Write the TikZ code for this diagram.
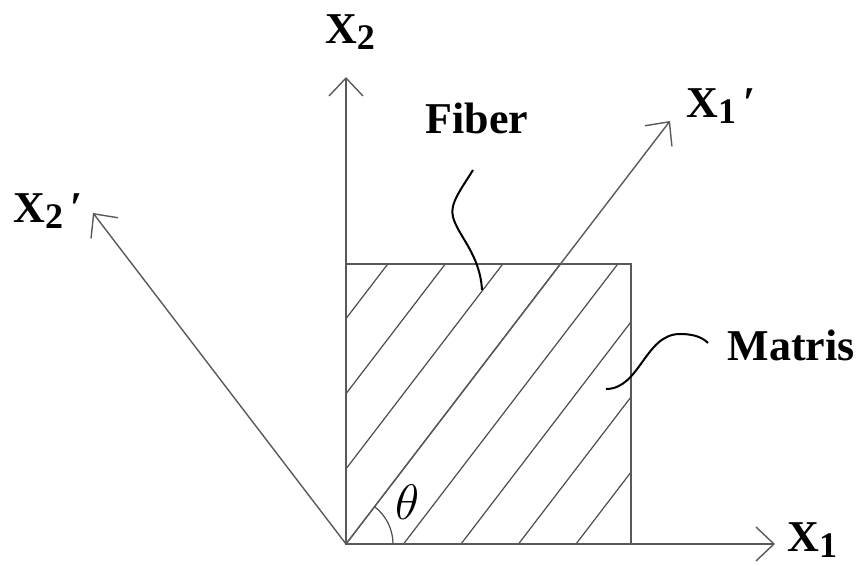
\documentclass[tikz,border=0pt]{standalone}
\usepackage{fontspec}
\setmainfont{Liberation Serif}
\usetikzlibrary{positioning,arrows.meta}

\tikzset{
  axis/.style={draw=black!65, line width=0.7pt, -{Straight Barb[length=9pt,width=17pt]}},
  hatch/.style={draw=black!70, line width=0.6pt},
  lbl/.style={inner sep=0pt, font=\fontsize{22}{26}\selectfont\bfseries},
  leader/.style={draw=black, line width=1pt},
}
\newcommand{\sub}[1]{\raisebox{-0.3ex}{\fontsize{18}{20}\selectfont #1}}

\begin{document}
\begin{tikzpicture}[x=0.5pt,y=0.5pt]
\useasboundingbox (0,0) rectangle (859,566);
\coordinate (O) at (346,22);
\coordinate (x1tip) at (775,22);
\coordinate (x2tip) at (346,489);
\coordinate (x1ptip) at (670,445);
\coordinate (x2ptip) at (93,353);
\coordinate (sqtop) at (631,302);

% hatched square
\begin{scope}
  \clip (O) rectangle (sqtop);
  \foreach \k in {-3,...,4}
    \draw[hatch] ([xshift=\k*28.75pt]O) -- ++(486,635);
\end{scope}
\draw[draw=black!65, line width=0.8pt] (O) rectangle (sqtop);

% axes
\draw[axis] (O) -- (x1tip);
\draw[axis] (O) -- (x2tip);
\draw[axis] (O) -- (x1ptip);
\draw[axis] (O) -- (x2ptip);

% angle
\draw[draw=black!70, line width=0.6pt] ([xshift=23.5pt]O) arc[start angle=0, end angle=52.5, radius=23.5pt];
\node[inner sep=0pt, font=\fontsize{24}{28}\selectfont] (theta) at (408,64) {$\theta$};

% labels
\node[lbl, right=6pt of x1tip, yshift=2pt] (lx1) {X\sub{1}};
\node[lbl] (lx2) at (350,534) {X\sub{2}};
\node[lbl] (lx1p) at (721,460) {X\sub{1}\,′};
\node[lbl] (lx2p) at (48,355) {X\sub{2}\,′};
\node[lbl] (fiber) at (477,448) {Fiber};
\node[lbl] (matris) at (791,221) {Matris};

% leaders
\draw[leader] (473,396) .. controls (462,378) and (449,362) .. (453,349)
  .. controls (458,330) and (480,312) .. (482,276);
\draw[leader] (606,177) .. controls (640,177) and (645,232) .. (680,232)
  .. controls (695,232) and (703,228) .. (708,223);
\end{tikzpicture}
\end{document}
